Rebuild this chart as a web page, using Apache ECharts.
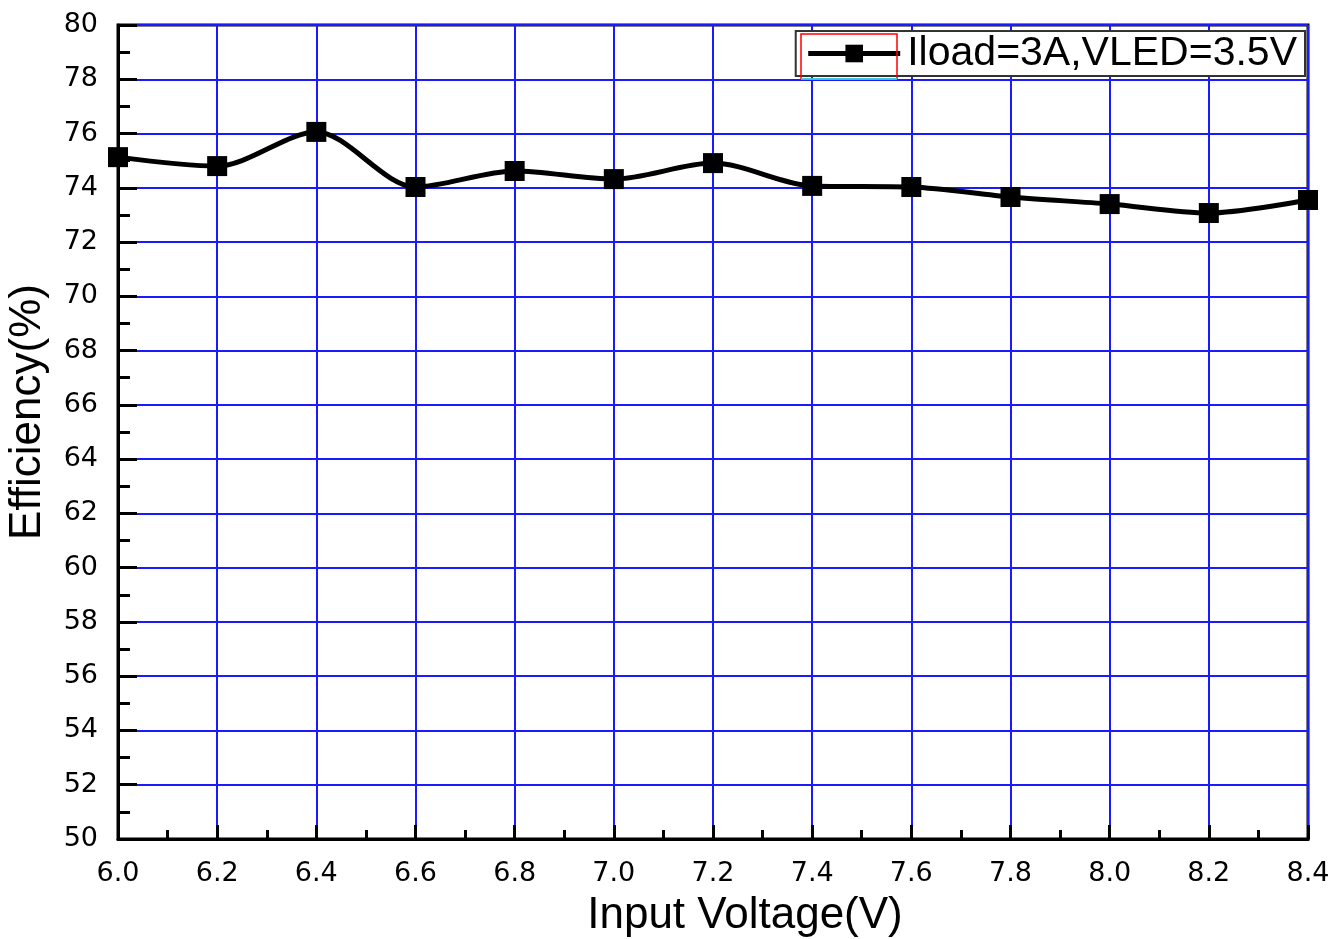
<!DOCTYPE html>
<html><head><meta charset="utf-8">
<script src="https://cdn.jsdelivr.net/npm/echarts@6/dist/echarts.min.js"></script>
<style>html,body{margin:0;padding:0;background:#fff}#c{width:1340px;height:939px}</style>
</head><body><div id="c"></div>
<script>
const inputVoltage = [6.0, 6.2, 6.4, 6.6, 6.8, 7.0, 7.2, 7.4, 7.6, 7.8, 8.0, 8.2, 8.4];
const efficiency = [75.13, 74.8, 76.06, 74.03, 74.62, 74.32, 74.91, 74.07, 74.03, 73.66, 73.4, 73.07, 73.55];
const seriesName = 'Iload=3A,VLED=3.5V';

const chart = echarts.init(document.getElementById('c'));
const font = 'Liberation Sans, Arial, sans-serif';
const tickFont = 'DejaVu Sans, sans-serif';
chart.setOption({
  backgroundColor: '#fff',
  animation: false,
  grid: { left: 118, right: 32, top: 25, bottom: 100, outerBoundsMode: 'none', containLabel: false, show: true, borderColor: '#000', borderWidth: 3, backgroundColor: 'transparent' },
  legend: {
    right: 35, top: 31,
    data: [seriesName],
    itemWidth: 92, itemHeight: 22, itemGap: 6,
    borderColor: '#333', borderWidth: 2, padding: [2, 8, 2, 10],
    backgroundColor: '#fff',
    lineStyle: { width: 5 },
    textStyle: { fontFamily: font, fontSize: 41, color: '#000', padding: [0, 0, 0, 2] }
  },
  graphic: [
    { type: 'rect', shape: { x: 801, y: 34, width: 96, height: 45 }, style: { fill: 'none', stroke: '#ff0000', lineWidth: 1.5 }, z: 100 },
    { type: 'line', shape: { x1: 801, y1: 79, x2: 897, y2: 79 }, style: { stroke: '#00ffff', lineWidth: 1.5 }, z: 101 }
  ],
  xAxis: {
    type: 'value', min: 6.0, max: 8.4, interval: 0.2,
    name: 'Input Voltage(V)', nameLocation: 'middle', nameGap: 55,
    nameTextStyle: { fontFamily: font, fontSize: 44, color: '#000', padding: [0, 0, 0, 64] },
    axisLine: { show: true, lineStyle: { color: '#000', width: 3 } },
    axisTick: { show: true, inside: true, length: 14, lineStyle: { color: '#000', width: 3 } },
    minorTick: { show: true, splitNumber: 2, length: 9, lineStyle: { color: '#000', width: 3 } },
    axisLabel: { fontFamily: tickFont, fontSize: 27, color: '#000', margin: 21, formatter: v => v.toFixed(1) },
    splitLine: { show: true, lineStyle: { color: '#1a1aff', width: 2 } }
  },
  yAxis: {
    type: 'value', min: 50, max: 80, interval: 2,
    name: 'Efficiency(%)', nameLocation: 'middle', nameGap: 68, nameRotate: 90,
    nameTextStyle: { fontFamily: font, fontSize: 44, color: '#000', padding: [0, 0, 0, 40] },
    axisLine: { show: true, lineStyle: { color: '#000', width: 3 } },
    axisTick: { show: true, inside: true, length: 19, lineStyle: { color: '#000', width: 3 } },
    minorTick: { show: true, splitNumber: 2, length: 12, lineStyle: { color: '#000', width: 3 } },
    axisLabel: { fontFamily: tickFont, fontSize: 27, color: '#000', margin: 20 },
    splitLine: { show: true, lineStyle: { color: '#1a1aff', width: 2 } }
  },
  series: [{
    name: seriesName,
    type: 'line',
    data: inputVoltage.map((x, i) => [x, efficiency[i]]),
    smooth: 0.3,
    symbol: 'rect', symbolSize: 20,
    lineStyle: { color: '#000', width: 5 },
    itemStyle: { color: '#000' },
    z: 5
  }]
});
</script></body></html>
